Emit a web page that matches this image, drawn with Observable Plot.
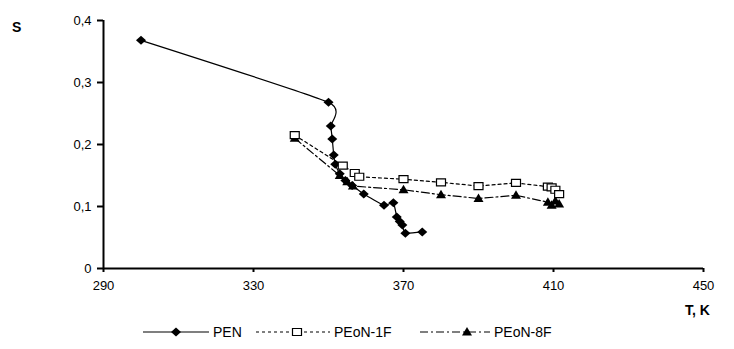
<!DOCTYPE html>
<html><head><meta charset="utf-8">
<script src="https://cdn.jsdelivr.net/npm/d3@7"></script>
<script src="https://cdn.jsdelivr.net/npm/@observablehq/plot@0.6"></script>
<style>
body{margin:0;background:#fff;font-family:"Liberation Sans",Arial,sans-serif}
#wrap{position:relative;width:734px;height:349px;overflow:hidden}
#wrap svg{display:block}
.lbl{position:absolute;font-weight:bold;font-size:14px;line-height:16px;color:#000}
#legend{position:absolute;left:0;top:318px}
</style></head><body><div id="wrap"></div>
<script>
// PEN
const penT = [300, 350, 350.6, 351, 351.4, 351.8, 353, 354.5, 356.3, 359.4, 364.8, 367.3, 368.2, 369, 369.7, 370.5, 375];
const penS = [0.368, 0.268, 0.23, 0.209, 0.183, 0.168, 0.153, 0.142, 0.134, 0.12, 0.102, 0.106, 0.083, 0.076, 0.07, 0.057, 0.059];
// PEoN-1F
const f1T = [341, 353.8, 357, 358.2, 370, 380, 390, 400, 408.5, 409.5, 410.5, 411.5];
const f1S = [0.215, 0.166, 0.154, 0.148, 0.144, 0.139, 0.133, 0.138, 0.132, 0.131, 0.127, 0.12];
// PEoN-8F
const f8T = [341, 353, 355, 356.5, 370, 380, 390, 400, 408.5, 409.5, 410.5, 411.5];
const f8S = [0.21, 0.15, 0.14, 0.133, 0.127, 0.119, 0.113, 0.118, 0.107, 0.102, 0.109, 0.104];
const seriesNames = ["PEN", "PEoN-1F", "PEoN-8F"];
const xTicks = [290, 330, 370, 410, 450];
const yTicks = [0, 0.1, 0.2, 0.3, 0.4];

const pen = penT.map((t, i) => ({T: t, S: penS[i]}));
const f1 = f1T.map((t, i) => ({T: t, S: f1S[i]}));
const f8 = f8T.map((t, i) => ({T: t, S: f8S[i]}));

const diamond = {draw(ctx) { ctx.moveTo(-5, 0); ctx.lineTo(0, -4.5); ctx.lineTo(5, 0); ctx.lineTo(0, 4.5); ctx.closePath(); }};
const square = {draw(ctx) { ctx.moveTo(-4.5, -3.5); ctx.lineTo(4.5, -3.5); ctx.lineTo(4.5, 3.5); ctx.lineTo(-4.5, 3.5); ctx.closePath(); }};
const tri = {draw(ctx) { ctx.moveTo(-5, 3.5); ctx.lineTo(0, -5); ctx.lineTo(5, 3.5); ctx.closePath(); }};

const fmt = d => d === 0 ? "0" : d.toFixed(1).replace(".", ",");

const chart = Plot.plot({
  width: 734, height: 300,
  marginLeft: 103, marginRight: 31, marginTop: 20, marginBottom: 32,
  style: {fontFamily: '"Liberation Sans", Arial, sans-serif', fontSize: "13px", color: "#000", background: "#fff"},
  x: {domain: [290, 450]},
  y: {domain: [0, 0.4]},
  marks: [
    Plot.line(f1, {x: "T", y: "S", stroke: "#000", strokeWidth: 1.2, strokeDasharray: "3,3"}),
    Plot.line(f8, {x: "T", y: "S", stroke: "#000", strokeWidth: 1.2, strokeDasharray: "8,3,2,3"}),
    Plot.line(pen, {x: "T", y: "S", stroke: "#000", strokeWidth: 1.2, curve: d3.curveCardinal.tension(0.5)}),
    Plot.dot(pen, {x: "T", y: "S", symbol: diamond, fill: "#000", stroke: "none"}),
    Plot.dot(f8, {x: "T", y: "S", symbol: tri, fill: "#000", stroke: "none"}),
    Plot.dot(f1, {x: "T", y: "S", symbol: square, fill: "#fff", stroke: "#000", strokeWidth: 1.2}),
    Plot.axisY({ticks: yTicks, tickFormat: fmt, tickSize: 6, tickPadding: 6, label: null, stroke: "#000", strokeWidth: 2, fontSize: 13}),
    Plot.axisX({ticks: xTicks, tickSize: 4, tickPadding: 8, label: null, stroke: "#000", strokeWidth: 2, fontSize: 13}),
    Plot.ruleX([290], {stroke: "#000", strokeWidth: 2}),
    Plot.ruleY([0], {stroke: "#000", strokeWidth: 2})
  ]
});
const wrap = document.getElementById("wrap");
wrap.appendChild(chart);

const s = document.createElement("div"); s.className = "lbl"; s.textContent = "S";
s.style.left = "12px"; s.style.top = "19px"; wrap.appendChild(s);
const tk = document.createElement("div"); tk.className = "lbl"; tk.textContent = "T, K";
tk.style.left = "685px"; tk.style.top = "302px"; wrap.appendChild(tk);

// legend
const lg = d3.select(wrap).append("svg").attr("id", "legend").attr("width", 734).attr("height", 31);
const items = [
  {x0: 143, x1: 209, mx: 176, dash: null, sym: diamond, fill: "#000", stroke: "none", tx: 213},
  {x0: 256, x1: 330, mx: 297, dash: "3,3", sym: square, fill: "#fff", stroke: "#000", tx: 334},
  {x0: 420, x1: 490, mx: 467, dash: "8,3,2,3", sym: tri, fill: "#000", stroke: "none", tx: 494}
];
items.forEach((it, i) => {
  const ln = lg.append("line").attr("x1", it.x0).attr("x2", it.x1).attr("y1", 14).attr("y2", 14)
    .attr("stroke", "#000").attr("stroke-width", 1.2);
  if (it.dash) ln.attr("stroke-dasharray", it.dash);
  const p = d3.path(); it.sym.draw(p);
  lg.append("path").attr("d", p.toString()).attr("transform", `translate(${it.mx},14)`)
    .attr("fill", it.fill).attr("stroke", it.stroke).attr("stroke-width", 1.2);
  lg.append("text").attr("x", it.tx).attr("y", 19).attr("font-size", 14)
    .attr("font-family", '"Liberation Sans", Arial, sans-serif').text(seriesNames[i]);
});
</script>
</body></html>
